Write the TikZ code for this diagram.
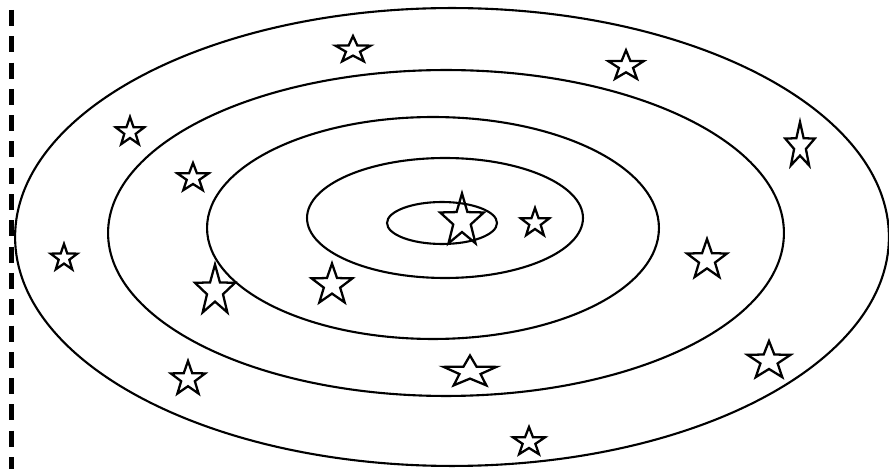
\documentclass[tikz,border=0pt]{standalone}
\usetikzlibrary{shapes.geometric}

\begin{document}
\begin{tikzpicture}[x=0.02cm, y=-0.02cm,
	orbit/.style={draw, line width=1.2pt},
	starmark/.style={shape=star, star points=5, star point ratio=2.5, draw, line width=1.3pt, fill=white, inner sep=0pt}]
	\useasboundingbox (0, 0) rectangle (889, 469);
	% Orbits and border:
	\draw[line width=2.6pt, dash pattern=on 0.32cm off 0.206cm] (11.5, -16.3) -- (11.5, 475);
	\draw[orbit] (452, 237) ellipse [x radius=8.74cm, y radius=4.58cm];
	\draw[orbit] (446, 233) ellipse [x radius=6.76cm, y radius=3.26cm];
	\draw[orbit] (433, 228) ellipse [x radius=4.52cm, y radius=2.22cm];
	\draw[orbit] (445, 218) ellipse [x radius=2.76cm, y radius=1.2cm];
	\draw[orbit] (442, 223) ellipse [x radius=1.1cm, y radius=0.42cm];
	% Stars:
	\node[starmark, minimum size=0.6cm] (s1) at (130, 132){};
	\node[starmark, minimum size=0.6cm, xscale=1.1] (s2) at (193, 178){};
	\node[starmark, minimum size=0.56cm] (s3) at (64, 258){};
	\node[starmark, minimum size=0.84cm, yscale=1.26] (s4) at (215, 291){};
	\node[starmark, minimum size=0.72cm] (s5) at (188, 379){};
	\node[starmark, minimum size=0.56cm, xscale=1.32] (s6) at (353, 50){};
	\node[starmark, minimum size=0.92cm, yscale=1.2, fill=none] (s7) at (462, 221){};
	\node[starmark, minimum size=0.6cm] (s8) at (535, 223){};
	\node[starmark, minimum size=0.86cm] (s9) at (332, 285){};
	\node[starmark, minimum size=0.66cm, xscale=1.68] (s10) at (470, 372){};
	\node[starmark, minimum size=0.6cm, xscale=1.12] (s11) at (529, 442){};
	\node[starmark, minimum size=0.63cm, xscale=1.18] (s12) at (626, 66){};
	\node[starmark, minimum size=0.62cm, yscale=1.55] (s13) at (800, 146){};
	\node[starmark, minimum size=0.84cm] (s14) at (707, 260){};
	\node[starmark, minimum size=0.8cm, xscale=1.13] (s15) at (769, 361){};
\end{tikzpicture}
\end{document}
